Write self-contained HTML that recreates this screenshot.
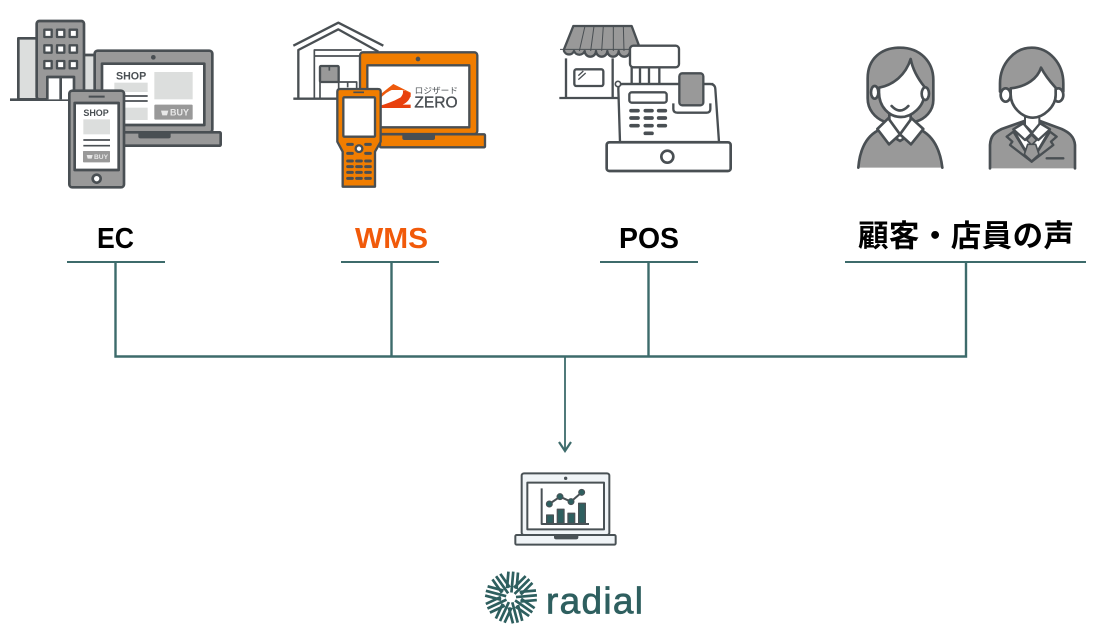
<!DOCTYPE html>
<html><head><meta charset="utf-8"><style>html,body{margin:0;padding:0;background:#fff}svg{display:block}</style></head>
<body>
<svg xmlns="http://www.w3.org/2000/svg" width="1109" height="628" viewBox="0 0 1109 628" font-family="'Liberation Sans','Noto Sans CJK JP',sans-serif">
<defs><filter id="b" x="-5%" y="-5%" width="110%" height="110%"><feGaussianBlur stdDeviation=".35"/></filter></defs>
<rect width="1109" height="628" fill="#fff"/>

<g filter="url(#b)">
<!-- Icon 1: EC -->
<g transform="translate(0,10) scale(.33333)" stroke="#4a4f53" stroke-width="8" stroke-linejoin="round" fill="none">
<rect x="55" y="85" width="60" height="183" fill="#dcdedd"/>
<rect x="250" y="135" width="40" height="133" fill="#dcdedd"/>
<path d="M30 269H215"/>
<rect x="110" y="33" width="142" height="235" rx="8" fill="#999"/>
<g fill="#fff" stroke-width="7">
<rect x="133" y="59" width="22" height="22"/><rect x="171" y="59" width="22" height="22"/><rect x="209" y="59" width="22" height="22"/>
<rect x="133" y="106" width="22" height="22"/><rect x="171" y="106" width="22" height="22"/><rect x="209" y="106" width="22" height="22"/>
<rect x="133" y="153" width="22" height="22"/><rect x="171" y="153" width="22" height="22"/><rect x="209" y="153" width="22" height="22"/>
</g>
<path d="M142 268V201H222V268M182 201V268" fill="#fff"/>
<rect x="284" y="122" width="353" height="245" rx="9" fill="#999"/>
<circle cx="460" cy="142" r="7" fill="#4a4f53" stroke="none"/>
<rect x="306" y="161" width="307" height="184" fill="#fff"/>
<rect x="340" y="367" width="322" height="40" rx="3" fill="#999"/>
<path d="M415 370H512V380Q512 385 506 385H421Q415 385 415 380Z" fill="#4a4f53" stroke="none"/>
<g stroke="none">
<rect x="343" y="218" width="100" height="28" fill="#dcdedd"/>
<rect x="463" y="186" width="115" height="82" fill="#dcdedd"/>
<rect x="343" y="293" width="100" height="37" fill="#dcdedd"/>
<rect x="463" y="284" width="115" height="45" rx="3" fill="#999"/>
<text x="348" y="208" font-size="32" font-weight="700" fill="#4a4f53">SHOP</text>
<text x="510" y="317" font-size="27" font-weight="700" fill="#e8e8e8">BUY</text>
<path d="M483 302H505L501 316H487Z" fill="#e8e8e8"/>
</g>
<path d="M365 258H443M365 273H443" stroke-width="5"/>
<rect x="208" y="242" width="164" height="290" rx="9" fill="#999"/>
<rect x="224" y="279" width="132" height="201" fill="#fff"/>
<path d="M266 260H314" stroke-width="6"/>
<circle cx="290" cy="506" r="12" fill="#fff"/>
<g stroke="none">
<text x="250" y="318" font-size="27" font-weight="700" fill="#4a4f53">SHOP</text>
<rect x="250" y="328" width="80" height="45" fill="#dcdedd"/>
<rect x="249" y="423" width="81" height="34" rx="2" fill="#999"/>
<text x="282" y="447" font-size="20" font-weight="700" fill="#e8e8e8">BUY</text>
<path d="M260 435H278L275 446H263Z" fill="#e8e8e8"/>
</g>
<path d="M250 390H330M250 407H330" stroke-width="5"/>
</g>

<!-- Icon 2: WMS -->
<g transform="translate(280,10) scale(.33333)" stroke="#4a4f53" stroke-width="7" stroke-linejoin="round" fill="none">
<path d="M40 107L175 38L310 107"/>
<path d="M55 265V120L175 58L295 125"/>
<path d="M40 266H240"/>
<path d="M103 265V120H245M103 138H245" stroke-width="5"/>
<rect x="120" y="168" width="56" height="48" rx="3" fill="#999"/>
<path d="M120 216V265M176 216V265M176 216H230V265M203 216V232M148 168V182" stroke-width="5"/>
<rect x="240" y="127" width="352" height="245" rx="9" fill="#f07d00"/>
<circle cx="414" cy="147" r="7" fill="#4a4f53" stroke="none"/>
<rect x="262" y="166" width="306" height="186" fill="#fff"/>
<rect x="300" y="373" width="315" height="39" rx="3" fill="#f07d00"/>
<path d="M367 376H465V384Q465 390 459 390H373Q367 390 367 384Z" fill="#4a4f53" stroke="none"/>
<g stroke="none">
<path d="M290 262L340 222L392 248V262L372 240H335Q305 252 290 284Z" fill="#ee5a0a"/>
<path d="M290 290Q330 280 362 262Q372 250 368 240L392 250Q392 272 368 284H392V294H290Z" fill="#e8400f"/>
<text x="404" y="251" font-size="25" font-weight="400" fill="#4a4f53" textLength="130" lengthAdjust="spacingAndGlyphs">ロジザード</text>
<text x="403" y="293" font-size="46" font-weight="400" fill="#4a4f53" stroke="#4a4f53" stroke-width="1" textLength="130" lengthAdjust="spacingAndGlyphs">ZERO</text>
</g>
<path d="M172 245Q172 237 180 237H294Q302 237 302 245V395L285 425V530H188V425L172 395Z" fill="#f07d00"/>
<rect x="190" y="262" width="95" height="118" rx="3" fill="#fff"/>
<path d="M220 247H252" stroke-width="5"/>
<circle cx="237" cy="416" r="10" fill="#fff"/>
<path d="M203 403H217M257 403H271M203 430H217M257 430H271M203 453H217M230 453H244M257 453H271M203 470H217M230 470H244M257 470H271M203 487H217M230 487H244M257 487H271M203 505H217M230 505H244M257 505H271" stroke-width="9" stroke-linecap="round"/>
</g>

<!-- Icon 3: POS -->
<g transform="translate(550,15) scale(.33333)" stroke="#4a4f53" stroke-width="7" stroke-linejoin="round" fill="none">
<path d="M48 130V248M188 130V248M28 249H205"/>
<rect x="73" y="163" width="87" height="50" rx="6" fill="#fff"/>
<path d="M85 182L100 168M85 194L107 174" stroke-width="4"/>
<path d="M70 33H245L270 100H240A17 17 0 0 1 240 103V108A17 17 0 0 1 206 108A17 17 0 0 1 172 108A17 17 0 0 1 138 108A17 17 0 0 1 104 108A17 17 0 0 1 72 108A16 16 0 0 1 42 108V103Z" fill="#999"/>
<path d="M30 103H240M105 33L88 108M132 33L122 108M160 33L155 108M190 33L190 108M220 33L222 108" stroke-width="3"/>
<rect x="240" y="92" width="147" height="65" rx="10" fill="#fff"/>
<path d="M210 381L205 222Q205 207 218 207H480Q495 207 496 222L507 381Z" fill="#fff"/>
<path d="M245 157V207M270 157V207M297 157V207M328 157V207M213 207H490"/>
<circle cx="204" cy="207" r="8" fill="#fff" stroke-width="5"/>
<rect x="238" y="232" width="112" height="31" rx="7" fill="#fff"/>
<path d="M243 287H264M286 287H306M326 287H346M243 309H264M286 309H306M326 309H346M243 332H264M286 332H306M326 332H346M286 355H306" stroke-width="11" stroke-linecap="round"/>
<rect x="388" y="175" width="72" height="96" rx="9" fill="#999"/>
<path d="M370 265V282Q370 293 382 293H470Q481 293 481 282V265"/>
<rect x="170" y="382" width="372" height="86" rx="8" fill="#fff" stroke-width="8"/>
<circle cx="352" cy="425" r="18" fill="#fff" stroke-width="8"/>
</g>

<!-- Icon 4: people -->
<g transform="translate(845,35) scale(.33333)" stroke="#4a4f53" stroke-width="8" stroke-linejoin="round" stroke-linecap="round" fill="none">
<path d="M68 130C68 70 110 38 165 38C225 38 265 80 265 135V195C265 228 240 252 212 260H118C88 248 68 222 68 190Z" fill="#999"/>
<path d="M40 398C45 335 70 298 108 282L165 318L222 282C262 300 285 340 292 398" fill="#999"/>
<path d="M133 235H197V270L165 300L133 270Z" fill="#fff"/>
<path d="M102 158C145 150 182 120 197 72C204 108 222 135 238 155V175C238 215 200 246 168 246C132 246 102 215 102 172Z" fill="#fff"/>
<ellipse cx="89" cy="172" rx="11" ry="19" fill="#fff"/>
<ellipse cx="241" cy="176" rx="11" ry="19" fill="#fff"/>
<path d="M140 213Q165 240 190 213" stroke-width="8"/>
<path d="M97 282L130 250L165 298L132 328Z" fill="#fff"/>
<path d="M235 282L200 250L165 298L198 328Z" fill="#fff"/>

<path d="M465 170V145C465 85 510 38 560 38C612 38 655 85 655 145V170L560 230Z" fill="#999"/>
<path d="M435 400V330C437 300 450 292 470 282L538 258H585L650 282C672 292 688 305 690 330V400" fill="#999"/>
<path d="M505 283L535 262H585L615 283L560 378Z" fill="#fff" stroke-width="6"/>
<path d="M540 245H583V270L562 292L540 270Z" fill="#fff" stroke-width="6"/>
<path d="M505 290L485 305L502 320L495 330L560 380L553 368Z" fill="#999" stroke-width="7"/>
<path d="M615 290L635 305L618 320L625 330L560 380L567 368Z" fill="#999" stroke-width="7"/>
<path d="M505 283L535 265L560 295L540 315Z" fill="#fff" stroke-width="7"/>
<path d="M615 283L585 265L560 295L580 315Z" fill="#fff" stroke-width="7"/>
<path d="M560 300L575 315L560 330L545 315Z" fill="#999" stroke-width="5"/>
<path d="M548 328H572L582 358L560 378L538 358Z" fill="#999" stroke-width="5"/>
<path d="M605 370H655" stroke-width="7"/>
<ellipse cx="482" cy="180" rx="15" ry="20" fill="#fff"/>
<ellipse cx="640" cy="180" rx="15" ry="20" fill="#fff"/>
<path d="M497 160C545 155 578 130 588 98C605 130 620 145 632 158V180C632 215 595 248 564 248C530 248 497 215 497 178Z" fill="#fff"/>
</g>

<!-- Laptop chart -->
<g transform="translate(470,430) scale(.33333)" stroke="#4a5155" stroke-width="6" stroke-linejoin="round" fill="none">
<rect x="155" y="130" width="263" height="185" rx="7" fill="#f0f4f7"/>
<circle cx="287" cy="145" r="5" fill="#4a5155" stroke="none"/>
<rect x="172" y="158" width="230" height="140" fill="#fff"/>
<rect x="136" y="315" width="301" height="29" rx="4" fill="#f0f4f7"/>
<path d="M252 316H325V322Q325 328 318 328H259Q252 328 252 322Z" fill="#4a5155" stroke="none"/>
<path d="M215 175V282H357"/>
<g fill="#2f5f5f" stroke-width="4">
<rect x="230" y="255" width="20" height="25"/>
<rect x="262" y="238" width="20" height="42"/>
<rect x="294" y="250" width="20" height="30"/>
<rect x="326" y="220" width="20" height="60"/>
</g>
<path d="M238 222L270 200L303 215L335 187"/>
<g fill="#2f5f5f" stroke-width="3">
<circle cx="238" cy="222" r="9"/><circle cx="270" cy="200" r="9"/><circle cx="303" cy="215" r="9"/><circle cx="335" cy="187" r="9"/>
</g>
</g>

<!-- Radial logo mark -->
<g stroke="#2f5f5f" stroke-width="2.7" fill="none">
<g transform="translate(511,597.5) rotate(5)"><path d="M0-5V-26M-4.8-9V-25.5M4.8-9V-25.5"/></g>
<g transform="translate(511,597.5) rotate(45)"><path d="M0-5V-26M-4.8-9V-25.5M4.8-9V-25.5"/></g>
<g transform="translate(511,597.5) rotate(85)"><path d="M0-5V-26M-4.8-9V-25.5M4.8-9V-25.5"/></g>
<g transform="translate(511,597.5) rotate(125)"><path d="M0-5V-26M-4.8-9V-25.5M4.8-9V-25.5"/></g>
<g transform="translate(511,597.5) rotate(165)"><path d="M0-5V-26M-4.8-9V-25.5M4.8-9V-25.5"/></g>
<g transform="translate(511,597.5) rotate(205)"><path d="M0-5V-26M-4.8-9V-25.5M4.8-9V-25.5"/></g>
<g transform="translate(511,597.5) rotate(245)"><path d="M0-5V-26M-4.8-9V-25.5M4.8-9V-25.5"/></g>
<g transform="translate(511,597.5) rotate(285)"><path d="M0-5V-26M-4.8-9V-25.5M4.8-9V-25.5"/></g>
<g transform="translate(511,597.5) rotate(325)"><path d="M0-5V-26M-4.8-9V-25.5M4.8-9V-25.5"/></g>
</g>
<text x="546" y="613.5" font-size="37" fill="#2f5f5f" stroke="#2f5f5f" stroke-width=".7" textLength="97" lengthAdjust="spacing">radial</text>
</g>

<!-- Labels -->
<g font-weight="700" font-size="29" text-anchor="start">
<text x="97" y="248" fill="#000" textLength="37" lengthAdjust="spacingAndGlyphs">EC</text>
<text x="355" y="248" fill="#f15a0a" textLength="73" lengthAdjust="spacingAndGlyphs">WMS</text>
<text x="619" y="248" fill="#000" textLength="60" lengthAdjust="spacingAndGlyphs">POS</text>
<text x="858" y="246.5" fill="#000" font-size="30.5" font-family="'Noto Sans CJK JP',sans-serif" textLength="216">顧客・店員の声</text>
</g>

<!-- Connectors -->
<g stroke="#3d6b6b" fill="none">
<path d="M67 262H165M341 262H439M600 262H698M845 262H1086" stroke-width="2"/>
<path d="M115.5 262V356.5H966V262M391.5 262V356.5M648.5 262V356.5" stroke-width="2.4"/>
<path d="M565 356V451" stroke-width="1.8"/>
<path d="M559 442L565 451L571 442" stroke-width="2.2"/>
</g>
</svg>
</body></html>
